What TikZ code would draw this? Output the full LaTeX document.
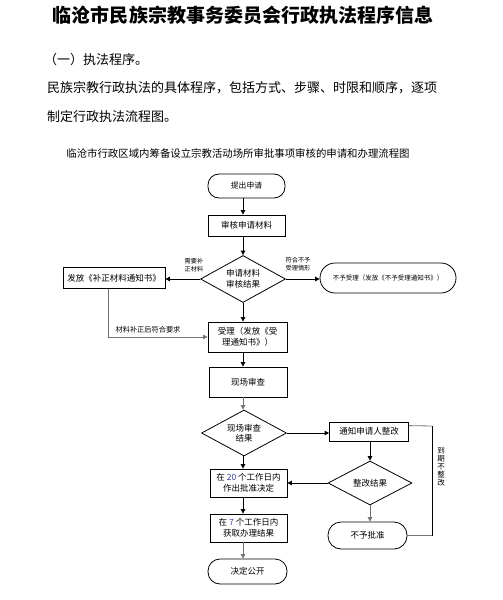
\documentclass[tikz,border=0pt]{standalone}
\usepackage{fontspec}
\setmainfont{Noto Sans CJK SC}
\usetikzlibrary{shapes.geometric,arrows.meta}
\begin{document}
\begin{tikzpicture}[x=1bp,y=-1bp,
  box/.style={draw,line width=0.8bp,rectangle,inner sep=0pt,align=center,font=\fontsize{8.5bp}{10.5bp}\selectfont},
  term/.style={box,rounded corners=11bp},
  dia/.style={draw,line width=0.8bp,diamond,aspect=1.8,inner sep=0pt,align=center,font=\fontsize{8.5bp}{10.5bp}\selectfont},
  arr/.style={line width=0.8bp,-{Triangle[length=4.5bp,width=4.5bp]}},
  garr/.style={arr,draw=black!55},
  gline/.style={line width=0.8bp,draw=black!55},
  lbl/.style={inner sep=0pt,align=center,font=\fontsize{6.2bp}{7.8bp}\selectfont},
  txt/.style={inner sep=0pt,anchor=west,font=\fontsize{13bp}{15bp}\selectfont}]
\fill[white] (0,0) rectangle (503,600);
\useasboundingbox (0,0) rectangle (503,600);

% header texts
\node[inner sep=0pt,font=\fontsize{19bp}{21bp}\selectfont\bfseries] (title) at (243,15) {临沧市民族宗教事务委员会行政执法程序信息};
\node[txt] (sec) at (44,60) {（一）执法程序。};
\node[txt] (p1) at (47,88) {民族宗教行政执法的具体程序，包括方式、步骤、时限和顺序，逐项};
\node[txt] (p2) at (47,117) {制定行政执法流程图。};
\node[inner sep=0pt,font=\fontsize{10.4bp}{12bp}\selectfont] (sub) at (238,154) {临沧市行政区域内筹备设立宗教活动场所审批事项审核的申请和办理流程图};

% nodes
\node[term,minimum width=77bp,minimum height=24bp,font=\fontsize{7.8bp}{9bp}\selectfont] (start) at (246.5,186) {提出申请};
\node[box,minimum width=77bp,minimum height=21bp] (check) at (246.5,225.5) {审核申请材料};
\node[dia,minimum width=85bp,minimum height=47bp] (d1) at (243,279) {申请材料\\审核结果};
\node[box,minimum width=102bp,minimum height=21bp] (notice) at (114,278) {发放《补正材料通知书》};
\node[term,minimum width=136bp,minimum height=30bp,rounded corners=15bp,font=\fontsize{6.5bp}{8bp}\selectfont] (rej) at (388,278) {不予受理（发放《不予受理通知书》）};
\node[box,minimum width=79bp,minimum height=30bp] (accept) at (247.5,337) {受理（发放《受\\理通知书》）};
\node[box,minimum width=78bp,minimum height=30bp] (site) at (248,382) {现场审查};
\node[dia,minimum width=85bp,minimum height=46bp] (d2) at (244,433) {现场审查\\结果};
\node[box,minimum width=79bp,minimum height=19bp] (notify) at (369,431.5) {通知申请人整改};
\node[dia,minimum width=84bp,minimum height=44bp] (d3) at (370,483) {整改结果};
\node[box,minimum width=77bp,minimum height=28bp] (approve) at (248.5,483) {在 {\color[rgb]{0.2,0.25,0.6}20} 个工作日内\\作出批准决定};
\node[term,minimum width=79bp,minimum height=27bp,rounded corners=13bp] (deny) at (367.5,535.5) {不予批准};
\node[box,minimum width=77bp,minimum height=28bp] (fetch) at (248.5,528) {在 {\color[rgb]{0.2,0.25,0.6}7} 个工作日内\\获取办理结果};
\node[term,minimum width=79bp,minimum height=25bp,rounded corners=12bp] (pub) at (247.5,571.5) {决定公开};

% connectors
\draw[arr] (start.south -| d1.north) -- (check.north -| d1.north);
\draw[arr] (check.south -| d1.north) -- (d1.north);
\draw[arr] (d1.west) -- (notice.east |- d1.west);
\draw[arr] (d1.east) -- (rej.west |- d1.east);
\draw[arr] (d1.south) -- (accept.north -| d1.south);
\draw[garr] ([xshift=-6bp]notice.south) |- (accept.west);
\draw[arr] (accept.south -| d1.south) -- (site.north -| d1.south);
\draw[garr] (site.south -| d1.south) -- (d2.north -| d1.south);
\draw[arr] (d2.east) -- (notify.west |- d2.east);
\draw[arr] (d2.south -| d1.south) -- (approve.north -| d1.south);
\draw[arr] (notify.south -| d3.north) -- (d3.north);
\draw[arr] (d3.west) -- (approve.east |- d3.west);
\draw[garr] (d3.south) -- (deny.north -| d3.south);
\draw[arr] (approve.south -| d1.south) -- (fetch.north -| d1.south);
\draw[garr] (fetch.south -| d1.south) -- (pub.north -| d1.south);
\coordinate (lp) at (432,426);
\draw[gline] ([yshift=-4bp]notify.north east) -- (lp);
\draw[line width=0.8bp] (lp) -- (lp |- deny.east);
\draw[gline] (lp |- deny.east) -- (deny.east);

% labels
\node[lbl] (l1) at (194,265) {需要补\\正材料};
\node[lbl] (l2) at (298,264) {符合不予\\受理情形};
\node[lbl,font=\fontsize{7.2bp}{8bp}\selectfont] (l3) at (148,330) {材料补正后符合要求};
\node[lbl,font=\fontsize{7.5bp}{8bp}\selectfont] (l4) at (441,467) {到\\期\\不\\整\\改};
\end{tikzpicture}
\end{document}
